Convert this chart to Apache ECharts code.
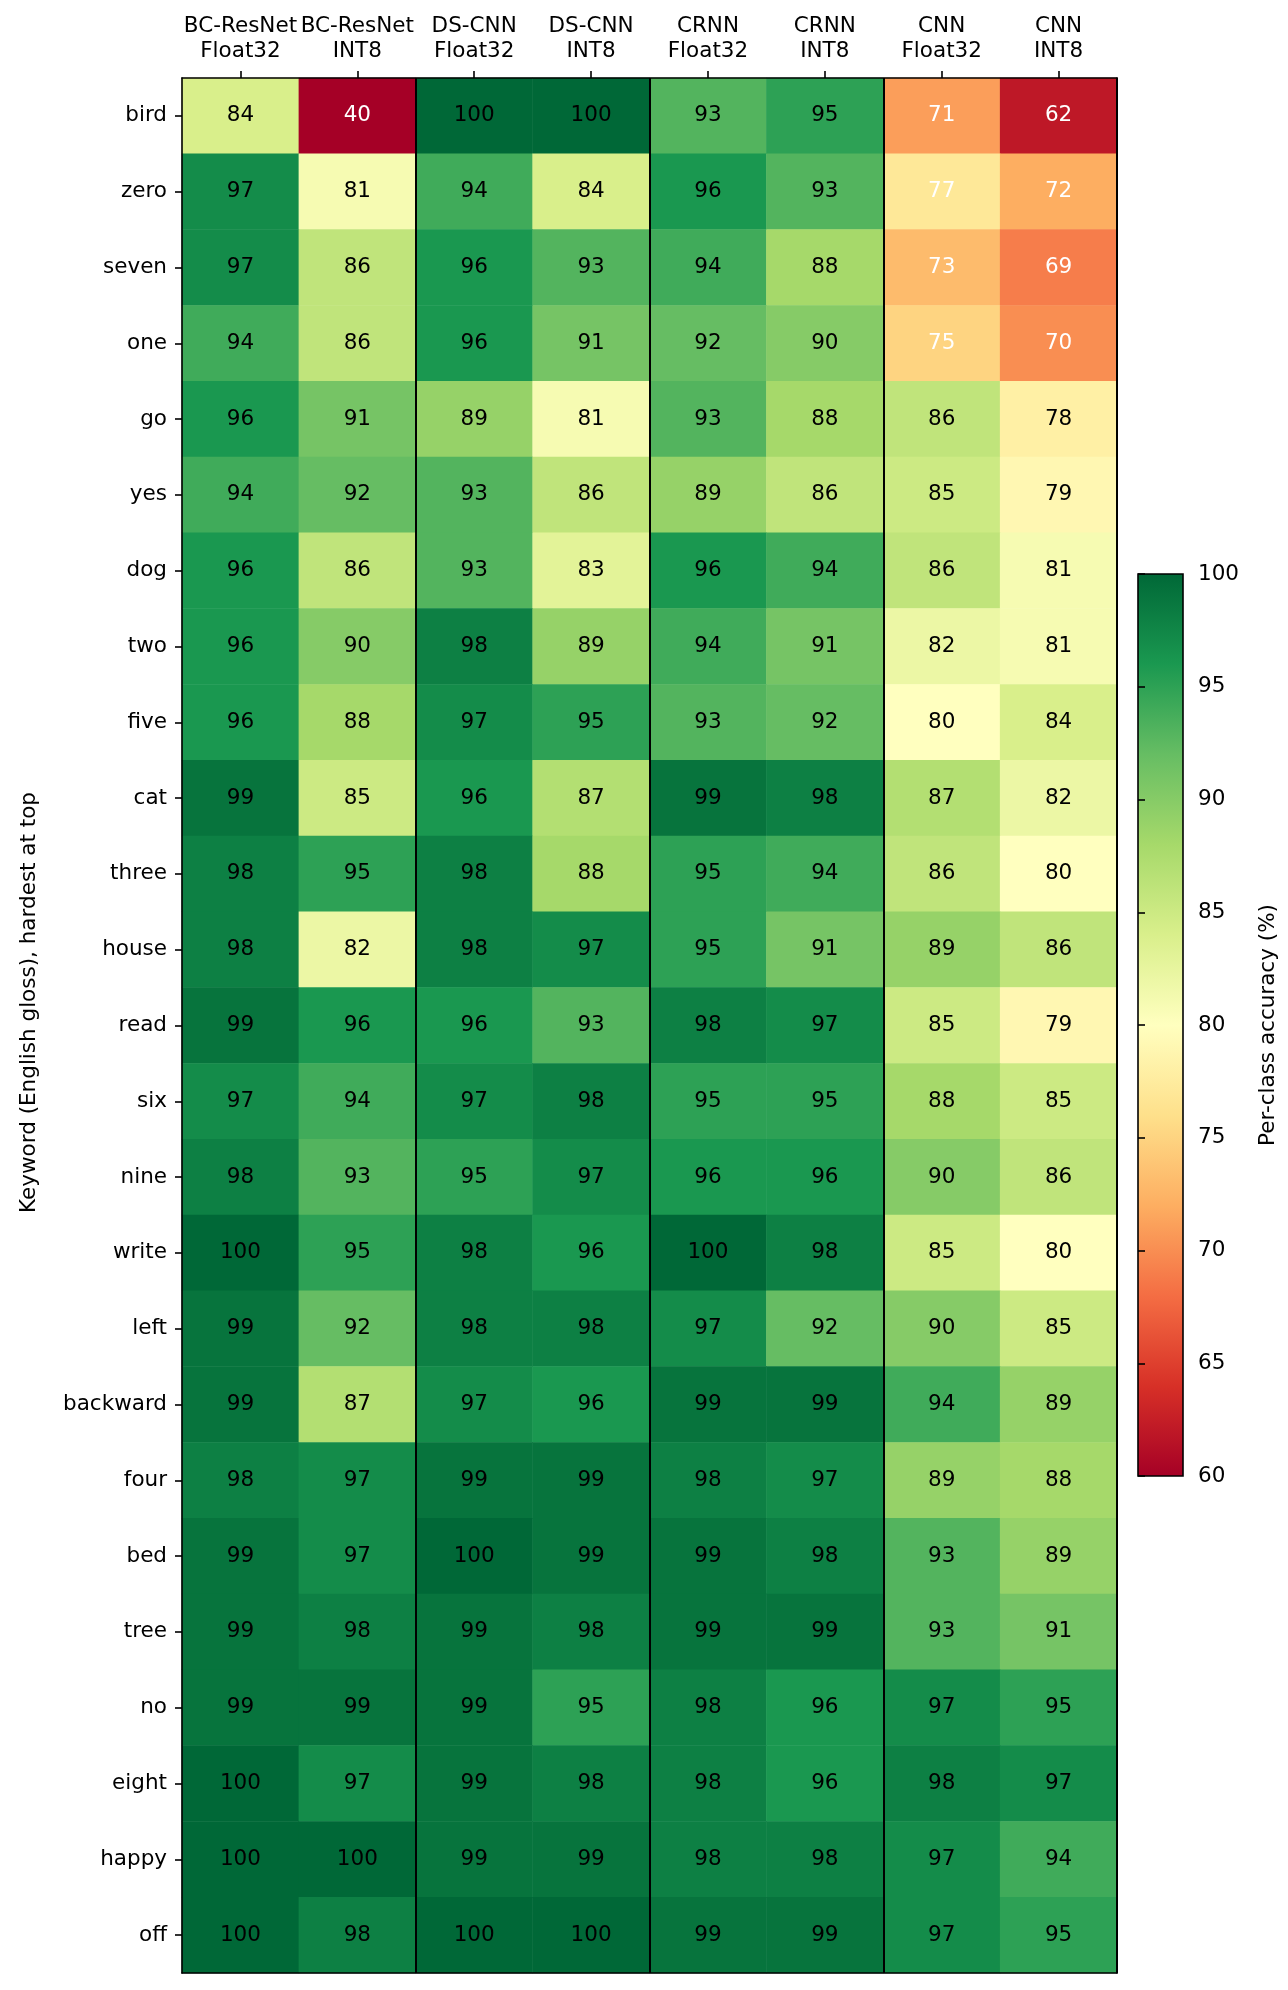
<!DOCTYPE html>
<html>
<head>
<meta charset="utf-8">
<title>Per-class accuracy heatmap</title>
<script src="https://cdn.jsdelivr.net/npm/echarts@6/dist/echarts.min.js"></script>
<style>
  html, body { margin: 0; padding: 0; background: #fff; }
  #main { width: 1288px; height: 1990px; }
</style>
</head>
<body>
<div id="main"></div>
<script>
// column labels (model + precision)
var models = [
  'BC-ResNet\nFloat32', 'BC-ResNet\nINT8',
  'DS-CNN\nFloat32', 'DS-CNN\nINT8',
  'CRNN\nFloat32', 'CRNN\nINT8',
  'CNN\nFloat32', 'CNN\nINT8'
];
// keywords, hardest at top
var keywords = ['bird', 'zero', 'seven', 'one', 'go', 'yes', 'dog', 'two', 'five', 'cat',
  'three', 'house', 'read', 'six', 'nine', 'write', 'left', 'backward', 'four', 'bed',
  'tree', 'no', 'eight', 'happy', 'off'];
// accuracy per keyword, one row per keyword, in column order above
var accuracy = [
  [84, 40, 100, 100, 93, 95, 71, 62],
  [97, 81, 94, 84, 96, 93, 77, 72],
  [97, 86, 96, 93, 94, 88, 73, 69],
  [94, 86, 96, 91, 92, 90, 75, 70],
  [96, 91, 89, 81, 93, 88, 86, 78],
  [94, 92, 93, 86, 89, 86, 85, 79],
  [96, 86, 93, 83, 96, 94, 86, 81],
  [96, 90, 98, 89, 94, 91, 82, 81],
  [96, 88, 97, 95, 93, 92, 80, 84],
  [99, 85, 96, 87, 99, 98, 87, 82],
  [98, 95, 98, 88, 95, 94, 86, 80],
  [98, 82, 98, 97, 95, 91, 89, 86],
  [99, 96, 96, 93, 98, 97, 85, 79],
  [97, 94, 97, 98, 95, 95, 88, 85],
  [98, 93, 95, 97, 96, 96, 90, 86],
  [100, 95, 98, 96, 100, 98, 85, 80],
  [99, 92, 98, 98, 97, 92, 90, 85],
  [99, 87, 97, 96, 99, 99, 94, 89],
  [98, 97, 99, 99, 98, 97, 89, 88],
  [99, 97, 100, 99, 99, 98, 93, 89],
  [99, 98, 99, 98, 99, 99, 93, 91],
  [99, 99, 99, 95, 98, 96, 97, 95],
  [100, 97, 99, 98, 98, 96, 98, 97],
  [100, 100, 99, 99, 98, 98, 97, 94],
  [100, 98, 100, 100, 99, 99, 97, 95]
];
// colour scale range and ticks
var vmin = 60, vmax = 100, cbStep = 5;
// RdYlGn
var rdylgn = ['#a50026', '#d73027', '#f46d43', '#fdae61', '#fee08b', '#ffffbf',
  '#d9ef8b', '#a6d96a', '#66bd63', '#1a9850', '#006837'];

var FONT = 'DejaVu Sans';
var FS = 21.5;

var cells = [];
accuracy.forEach(function (row, j) {
  row.forEach(function (v, i) {
    cells.push({
      value: [i, j, v],
      label: { color: v < 78 ? '#ffffff' : '#000000' }
    });
  });
});

var cbStops = rdylgn.map(function (c, i) {
  return { offset: i / (rdylgn.length - 1), color: c };
});

var chart = echarts.init(document.getElementById('main'), null, { renderer: 'canvas' });

var option = {
  backgroundColor: '#ffffff',
  animation: false,
  textStyle: { fontFamily: FONT },
  grid: [
    { left: 182, top: 78, width: 935, height: 1895 },
    { left: 1138, top: 574, width: 45, height: 902 }
  ],
  xAxis: [
    {
      type: 'category', gridIndex: 0, data: models, position: 'top', z: 5,
      axisLine: { show: true, lineStyle: { color: '#000', width: 1.6 } },
      axisTick: { show: true, alignWithLabel: true, inside: false, length: 7, lineStyle: { color: '#000', width: 1.6 } },
      axisLabel: { fontSize: FS, color: '#000', lineHeight: 25, margin: 14, interval: 0, fontFamily: FONT },
      splitLine: {
        show: true,
        interval: function (i) { return i === 2 || i === 4 || i === 6; },
        lineStyle: { color: '#000', width: 2 }
      }
    },
    {
      type: 'category', gridIndex: 0, data: models, position: 'bottom', z: 5,
      axisLine: { show: true, lineStyle: { color: '#000', width: 1.6 } },
      axisTick: { show: false }, axisLabel: { show: false }, splitLine: { show: false }
    },
    {
      type: 'value', gridIndex: 1, min: 0, max: 1, show: false
    }
  ],
  yAxis: [
    {
      type: 'category', gridIndex: 0, data: keywords, inverse: true, position: 'left', z: 5,
      name: 'Keyword (English gloss), hardest at top',
      nameLocation: 'middle', nameRotate: 90, nameGap: 142,
      nameTextStyle: { fontSize: FS, color: '#000', fontFamily: FONT, padding: [0, 0, 0, 46] },
      axisLine: { show: true, lineStyle: { color: '#000', width: 1.6 } },
      axisTick: { show: true, alignWithLabel: true, inside: false, length: 7, lineStyle: { color: '#000', width: 1.6 } },
      axisLabel: { fontSize: FS, color: '#000', margin: 15, interval: 0, fontFamily: FONT },
      splitLine: { show: false }
    },
    {
      type: 'category', gridIndex: 0, data: keywords, inverse: true, position: 'right', z: 5,
      axisLine: { show: true, lineStyle: { color: '#000', width: 1.6 } },
      axisTick: { show: false }, axisLabel: { show: false }, splitLine: { show: false }
    },
    {
      type: 'value', gridIndex: 1, min: vmin, max: vmax, interval: cbStep, position: 'right', z: 5,
      name: 'Per-class accuracy (%)',
      nameLocation: 'middle', nameRotate: 90, nameGap: 74,
      nameTextStyle: { fontSize: FS, color: '#000', fontFamily: FONT },
      axisLine: { show: false },
      axisTick: { show: true, inside: false, length: 7, lineStyle: { color: '#000', width: 1.6 } },
      axisLabel: { fontSize: FS, color: '#000', margin: 15, fontFamily: FONT },
      splitLine: { show: false }
    }
  ],
  visualMap: {
    show: false, type: 'continuous', min: vmin, max: vmax, dimension: 2, seriesIndex: 0,
    inRange: { color: rdylgn },
    outOfRange: { color: rdylgn[0] }
  },
  series: [
    {
      type: 'heatmap', xAxisIndex: 0, yAxisIndex: 0,
      data: cells,
      label: {
        show: true, fontSize: FS, fontFamily: FONT,
        formatter: function (p) { return p.value[2]; }
      },
      itemStyle: { borderWidth: 0 },
      emphasis: { disabled: true }
    },
    {
      type: 'custom', xAxisIndex: 2, yAxisIndex: 2, clip: false, z: 3,
      data: [[0, vmin, vmax]],
      renderItem: function (params, api) {
        var tl = api.coord([0, api.value(2)]);
        var br = api.coord([1, api.value(1)]);
        return {
          type: 'rect',
          shape: { x: tl[0], y: tl[1], width: br[0] - tl[0], height: br[1] - tl[1] },
          style: {
            fill: new echarts.graphic.LinearGradient(0, 1, 0, 0, cbStops),
            stroke: '#000', lineWidth: 1.6
          }
        };
      }
    }
  ]
};

chart.setOption(option);
</script>
</body>
</html>
